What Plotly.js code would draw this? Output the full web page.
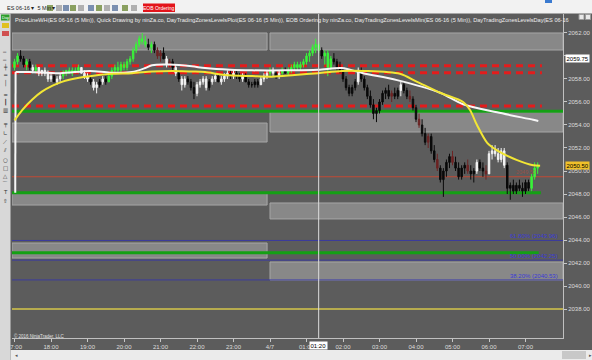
<!DOCTYPE html>
<html><head><meta charset="utf-8">
<script src="https://cdn.plot.ly/plotly-3.0.1.min.js"></script>
<style>html,body{margin:0;padding:0;background:#5c5c5c;overflow:hidden}#chart{width:592px;height:360px}</style>
</head><body><div id="chart"></div>
<script>
// ---- tick labels ----
const tickHours = [0,1,2,3,4,5,6,7,8,9,10,11,12,13,14];
const tickLabels = ["17:00","18:00","19:00","20:00","21:00","22:00","23:00","4/7","01:00","02:00","03:00","04:00","05:00","06:00","07:00"];
const priceTicks = [2038,2040,2042,2044,2046,2048,2050,2052,2054,2056,2058,2060,2062];
const hiddenPriceTicks = [2060]; // covered by the price marker in the reference
const barMinutes = 5;

// ---- 5-min OHLC (ES 06-16) ----
const open = [
2059.00,2059.50,2060.00,2059.75,2059.25,2059.50,2059.00,2058.75,2059.00,2058.50,2058.75,2058.50,
2058.00,2058.25,2057.75,2058.00,2058.25,2058.50,2058.75,2058.50,2058.75,2058.75,2059.00,2058.50,
2058.25,2058.00,2057.75,2057.25,2057.50,2057.75,2058.00,2057.75,2058.25,2058.75,2059.00,2058.75,
2059.25,2059.00,2059.50,2059.75,2060.50,2061.00,2061.50,2061.25,2061.00,2060.75,2061.00,2060.50,
2060.00,2060.25,2059.75,2059.25,2059.50,2059.00,2058.50,2058.00,2057.50,2058.00,2057.75,2057.25,
2056.75,2057.50,2057.75,2058.00,2057.25,2057.75,2058.00,2058.25,2057.75,2058.00,2058.25,2058.50,
2058.25,2058.50,2058.25,2058.00,2058.25,2057.75,2057.50,2057.50,2057.75,2057.50,2058.00,2058.25,
2058.50,2058.75,2058.50,2058.25,2058.50,2058.75,2058.50,2058.75,2059.00,2059.25,2059.00,2059.25,
2059.50,2060.00,2060.25,2060.75,2061.00,2060.50,2060.00,2060.25,2059.00,2059.75,2059.50,2059.00,
2058.75,2058.00,2057.25,2056.75,2057.25,2057.75,2058.75,2058.00,2057.25,2056.50,2055.75,2055.00,
2055.25,2056.00,2056.75,2057.00,2056.50,2056.75,2056.50,2057.00,2057.50,2057.00,2056.50,2056.25,
2055.50,2054.50,2054.00,2053.25,2052.50,2053.00,2051.75,2051.00,2050.25,2049.25,2050.00,2050.75,
2051.25,2050.75,2050.25,2049.50,2050.25,2050.50,2050.00,2049.75,2050.00,2050.75,2050.25,2050.00,
2049.75,2051.50,2051.75,2051.50,2051.00,2051.75,2050.50,2048.50,2048.75,2048.25,2048.75,2048.50,
2048.25,2049.00,2048.50,2049.50,2050.25];
const high = [
2059.75,2060.25,2060.50,2060.00,2059.75,2059.75,2059.25,2059.25,2059.00,2058.75,2059.00,2058.75,
2058.50,2058.50,2058.25,2058.50,2058.75,2058.75,2059.00,2059.00,2059.00,2059.25,2059.00,2058.75,
2058.50,2058.25,2058.00,2057.75,2058.00,2058.25,2058.25,2058.50,2059.00,2059.25,2059.50,2059.50,
2059.50,2059.75,2060.00,2060.75,2061.25,2061.75,2062.00,2061.75,2061.50,2061.25,2061.25,2060.75,
2060.50,2060.75,2060.00,2059.75,2059.75,2059.25,2058.75,2058.25,2058.25,2058.25,2058.00,2057.75,
2057.75,2058.00,2058.25,2058.25,2058.00,2058.25,2058.50,2058.50,2058.25,2058.50,2058.75,2058.75,
2058.75,2058.75,2058.50,2058.50,2058.50,2058.00,2057.75,2058.00,2058.00,2058.25,2058.50,2058.75,
2059.00,2059.00,2058.75,2058.75,2059.00,2059.00,2059.00,2059.25,2059.50,2059.50,2059.50,2059.75,
2060.25,2060.50,2061.00,2061.50,2061.25,2060.75,2060.50,2060.50,2060.00,2060.25,2059.75,2059.50,
2059.00,2058.25,2057.50,2057.50,2058.00,2059.00,2059.00,2058.25,2057.50,2057.00,2056.25,2055.50,
2056.25,2057.00,2057.25,2057.50,2057.00,2057.25,2057.25,2057.75,2057.75,2057.25,2057.00,2056.50,
2055.75,2055.00,2054.50,2053.75,2053.25,2053.25,2052.25,2051.50,2050.50,2050.25,2051.00,2051.50,
2051.75,2051.25,2050.75,2050.50,2050.75,2051.00,2050.50,2050.25,2051.00,2051.00,2050.75,2050.50,
2051.75,2052.25,2052.25,2052.00,2052.00,2052.00,2050.75,2049.00,2049.25,2049.00,2049.25,2049.00,
2049.25,2049.25,2049.75,2050.75,2050.75];
const low = [
2058.75,2059.25,2059.50,2059.00,2058.75,2058.75,2058.50,2058.50,2058.25,2058.25,2058.25,2057.75,
2057.75,2057.75,2057.50,2057.75,2058.00,2058.25,2058.50,2058.25,2058.50,2058.50,2058.50,2058.00,
2057.75,2057.50,2057.00,2056.75,2057.25,2057.50,2057.50,2057.75,2058.00,2058.50,2058.50,2058.50,
2058.75,2058.75,2059.25,2059.50,2060.25,2060.75,2061.00,2060.75,2060.50,2060.25,2060.25,2059.75,
2059.50,2059.75,2059.00,2059.00,2058.75,2058.25,2057.75,2057.00,2057.25,2057.50,2057.00,2056.25,
2056.50,2057.25,2057.50,2057.00,2057.00,2057.50,2057.75,2057.75,2057.50,2057.75,2058.00,2058.00,
2058.00,2058.00,2057.75,2057.75,2057.75,2057.25,2057.25,2057.25,2057.25,2057.50,2057.75,2058.00,
2058.25,2058.25,2058.00,2058.00,2058.25,2058.50,2058.25,2058.50,2058.75,2058.75,2058.75,2059.00,
2059.25,2059.50,2060.00,2060.25,2060.25,2059.75,2059.25,2058.25,2058.75,2059.25,2058.75,2058.50,
2057.75,2057.00,2056.50,2056.50,2057.00,2057.50,2057.75,2057.00,2056.25,2055.50,2054.50,2054.25,
2055.00,2055.75,2056.25,2056.25,2056.00,2056.25,2056.25,2056.50,2056.75,2056.25,2056.00,2055.25,
2054.25,2053.75,2053.00,2052.25,2052.00,2051.50,2050.75,2050.00,2049.00,2047.75,2049.50,2050.25,
2050.50,2050.00,2049.25,2049.25,2049.75,2049.75,2049.25,2049.00,2049.75,2050.00,2049.50,2049.25,
2049.75,2051.00,2051.25,2050.75,2050.75,2050.25,2048.00,2047.50,2048.00,2048.00,2048.25,2047.75,
2048.00,2048.25,2048.25,2049.25,2049.75];
const close = [
2059.50,2060.00,2059.75,2059.25,2059.50,2059.00,2058.75,2059.00,2058.50,2058.75,2058.50,2058.00,
2058.25,2057.75,2058.00,2058.25,2058.50,2058.75,2058.50,2058.75,2058.75,2059.00,2058.50,2058.25,
2058.00,2057.75,2057.25,2057.50,2057.75,2058.00,2057.75,2058.25,2058.75,2059.00,2058.75,2059.25,
2059.00,2059.50,2059.75,2060.50,2061.00,2061.50,2061.25,2061.00,2060.75,2061.00,2060.50,2060.00,
2060.25,2059.75,2059.25,2059.50,2059.00,2058.50,2058.00,2057.50,2058.00,2057.75,2057.25,2056.75,
2057.50,2057.75,2058.00,2057.25,2057.75,2058.00,2058.25,2057.75,2058.00,2058.25,2058.50,2058.25,
2058.50,2058.25,2058.00,2058.25,2057.75,2057.50,2057.50,2057.75,2057.50,2058.00,2058.25,2058.50,
2058.75,2058.50,2058.25,2058.50,2058.75,2058.50,2058.75,2059.00,2059.25,2059.00,2059.25,2059.50,
2060.00,2060.25,2060.75,2061.00,2060.50,2060.00,2060.25,2059.00,2059.75,2059.50,2059.00,2058.75,
2058.00,2057.25,2056.75,2057.25,2057.75,2058.75,2058.00,2057.25,2056.50,2055.75,2055.00,2055.25,
2056.00,2056.75,2057.00,2056.50,2056.75,2056.50,2057.00,2057.50,2057.00,2056.50,2056.25,2055.50,
2054.50,2054.00,2053.25,2052.50,2053.00,2051.75,2051.00,2050.25,2049.25,2050.00,2050.75,2051.25,
2050.75,2050.25,2049.50,2050.25,2050.50,2050.00,2049.75,2050.00,2050.75,2050.25,2050.00,2049.75,
2051.50,2051.75,2051.50,2051.00,2051.75,2050.50,2048.50,2048.75,2048.25,2048.75,2048.50,2048.25,
2049.00,2048.50,2049.50,2050.25,2050.50];
// bar paint: g=green, w=white, k=black, r=maroon
const barPaint = (
"ggkkgkwgwwww"+"wkwwggggggww"+"wkwwkwkggggg"+"ggggggggkgkr"+
"rkwrkwkwwkkk"+"wwwwkwwkwwwk"+"wkkwkkkkkwww"+"gwkwgkgggggg"+
"gggggkgggkkk"+"kkkkkwkkkkkk"+"kkkkrkkwkkrk"+"krkkrkkrkkkk"+
"rkkkkrkkwkkr"+"wwwwwwkkkkkk"+"kkggg").split("");

// ---- moving averages ----
const whiteMaTimes  = [0.02,0.03,0.42,1.25,2.07,2.62,3.22,3.58,3.77,4.26,4.86,5.22,5.90,6.51,7.41,8.32,8.97,9.55,10.48,11.66,12.29,13.22,14.21,14.35];
const whiteMaValues = [2048.10,2058.60,2058.60,2058.50,2058.70,2058.55,2058.60,2058.95,2059.20,2059.25,2059.10,2058.95,2058.80,2058.75,2058.75,2058.80,2058.95,2058.50,2057.90,2056.80,2055.80,2055.10,2054.45,2054.35];
const yellowMaTimes  = [0.00,0.21,0.48,0.75,1.03,1.30,1.77,2.21,2.67,3.22,3.77,4.32,4.86,5.22,5.77,6.51,7.05,7.68,8.32,8.97,9.60,10.56,11.03,11.66,12.29,12.48,12.67,12.95,13.22,13.77,14.21,14.40];
const yellowMaValues = [2054.40,2055.30,2056.20,2056.90,2057.40,2057.75,2058.10,2058.30,2058.45,2058.50,2058.65,2058.70,2058.65,2058.60,2058.35,2058.25,2058.20,2058.35,2058.50,2058.70,2058.70,2058.45,2057.75,2056.80,2056.00,2055.30,2054.00,2052.45,2051.80,2050.95,2050.50,2050.45];

// ---- levels / zones ----
const redDashLevels = [2059.15, 2058.55, 2055.65];
const greenLevels = [2055.20, 2048.10, 2042.90];
const fibLevels = [2043.96, 2042.25, 2040.53];
const fibLabels = ["61.80% (2043.96)", "50.00% (2042.25)", "38.20% (2040.53)"];
const thinRedLevel = 2049.50;
const yellowLevel = 2038.00;
const priorZones = [[2062.00,2060.52],[2054.17,2052.52],[2048.09,2047.04],[2043.74,2042.43]];
const todayZones = [[2062.00,2060.52],[2055.13,2053.39],[2047.22,2045.83],[2042.09,2040.52]];
const lastPrice = 2050.50;
const plotPrice = 2059.75;
const cursorTime = 8 + 20/60;
const cursorLabel = "01:20";
const titleText = "PriceLineWH(ES 06-16 (5 Min)), Quick Drawing by ninZa.co, DayTradingZonesLevelsPlot(ES 06-16 (5 Min)), EOB Ordering by ninZa.co, DayTradingZonesLevelsMin(ES 06-16 (5 Min)), DayTradingZonesLevelsDay(ES 06-16";

// ---- build ----
const xRange = [-0.0685, 15.027];
const yRange = [2035.48, 2063.65];
const barTimes = open.map((_, i) => i * barMinutes / 60);
const paintColors = {g:'#39f239', w:'#f4f4f4', k:'#0a0a0a', r:'#6c2424'};
const traces = [];
Object.keys(paintColors).forEach(code => {
  const idx = barPaint.map((c, i) => c === code ? i : -1).filter(i => i >= 0);
  const col = paintColors[code];
  traces.push({
    type:'candlestick', x: idx.map(i => barTimes[i]),
    open: idx.map(i => open[i]), high: idx.map(i => high[i]),
    low: idx.map(i => low[i]), close: idx.map(i => close[i]),
    increasing:{line:{color:col, width:1}, fillcolor:col},
    decreasing:{line:{color:col, width:1}, fillcolor:col},
    whiskerwidth:0, hoverinfo:'skip', showlegend:false
  });
});
traces.push({type:'scatter', mode:'lines', x: whiteMaTimes.slice(0,2), y: whiteMaValues.slice(0,2),
  line:{color:'#f6f6f6', width:2}, hoverinfo:'skip'});
traces.push({type:'scatter', mode:'lines', x: whiteMaTimes.slice(1), y: whiteMaValues.slice(1),
  line:{color:'#f6f6f6', width:2, shape:'spline', smoothing:0.8}, hoverinfo:'skip'});
traces.push({type:'scatter', mode:'lines', x: yellowMaTimes, y: yellowMaValues,
  line:{color:'#f2e634', width:2, shape:'spline', smoothing:0.8}, hoverinfo:'skip'});

const PX = x => (x - 12) / 551;
const PY = y => 1 - (y - 14) / 324;
const shapes = [];
function hline(y, x0, x1, color, width, dash) {
  shapes.push({type:'line', xref:'x', yref:'y', x0, x1, y0:y, y1:y, layer:'below',
    line:{color, width, dash: dash || 'solid'}});
}
priorZones.forEach(z => shapes.push({type:'rect', xref:'x', yref:'y', x0:xRange[0], x1:6.92, y0:z[0], y1:z[1],
  fillcolor:'#888888', line:{color:'#a6a6a6', width:1}, layer:'below'}));
todayZones.forEach(z => shapes.push({type:'rect', xref:'x', yref:'y', x0:7.0, x1:xRange[1], y0:z[0], y1:z[1],
  fillcolor:'#888888', line:{color:'#a6a6a6', width:1}, layer:'below'}));
hline(yellowLevel, xRange[0], xRange[1], '#d4c64a', 1.5);
fibLevels.forEach(v => hline(v, xRange[0], xRange[1], '#3b3b9e', 1));
hline(thinRedLevel, xRange[0], xRange[1], '#c04a34', 1);
hline(greenLevels[0], xRange[0], xRange[1], '#14a014', 3);
hline(greenLevels[1], xRange[0], 14.42, '#14a014', 3);
hline(greenLevels[2], xRange[0], 14.36, '#14a014', 3);
redDashLevels.forEach(v => hline(v, xRange[0], 14.45, '#e31c1c', 3, '7px,5px'));
shapes.push({type:'line', xref:'x', yref:'paper', x0:cursorTime, x1:cursorTime, y0:0, y1:1,
  line:{color:'#dcdcdc', width:1}, layer:'above'});
// window chrome
function prect(x0, y0, x1, y1, fill, lineCol) {
  shapes.push({type:'rect', xref:'paper', yref:'paper', x0:PX(x0), x1:PX(x1), y0:PY(y1), y1:PY(y0),
    fillcolor:fill, line:{width: lineCol ? 1 : 0, color: lineCol || fill}, layer:'above'});
}
prect(0, 0, 592, 13.5, '#f2f2f2');
prect(0, 13.5, 10.5, 350, '#d8d8d8');
prect(10.5, 350, 592, 360, '#ebebeb');
prect(0, 350, 10.5, 360, '#d8d8d8');
prect(562, 351, 586, 359, '#c8c8c8');
prect(143, 3.5, 175, 12, '#e3141b');
prect(1, 14.5, 9.5, 20.5, '#2e9e2e');
prect(2, 23, 9, 28, '#e0c020');
prect(2, 31, 9, 36, '#d05050');
[47,56,63,70,78,88,96,104,112,122,131].forEach((x, k) => prect(x, 5, x + 6, 11, k % 3 === 0 ? '#8aa060' : (k % 3 === 1 ? '#b0b0b0' : '#7a8fb0')));
prect(579, 14.5, 584, 19.5, '#e8e8e8', '#9a9a9a');
prect(585.5, 14.5, 590.5, 19.5, '#e8e8e8', '#9a9a9a');
prect(545, 0, 552, 3, '#3a7ad0');

const txtFont = 'Liberation Sans, Arial, sans-serif';
const annotations = [];
annotations.push({xref:'paper', yref:'paper', x:PX(13), y:PY(14.5), xanchor:'left', yanchor:'top', showarrow:false,
  text:titleText, font:{family:txtFont, size:5.6, color:'#eeeeee'}});
fibLevels.forEach((v, k) => annotations.push({xref:'paper', yref:'y', x:PX(560), y:v, xanchor:'right', yanchor:'bottom',
  yshift:-1, showarrow:false, text:fibLabels[k], font:{family:txtFont, size:6, color:'#3a3ad8'}}));
annotations.push({xref:'paper', yref:'y', x:1, y:plotPrice, xanchor:'left', xshift:2, showarrow:false, text:plotPrice.toFixed(2),
  bgcolor:'#ffffff', borderpad:0.5, font:{family:txtFont, size:6, color:'#000000'}});
annotations.push({xref:'paper', yref:'y', x:1, y:lastPrice, xanchor:'left', xshift:2, showarrow:false, text:lastPrice.toFixed(2),
  bgcolor:'#f0c02a', borderpad:0.5, font:{family:txtFont, size:6, color:'#000000'}});
annotations.push({xref:'paper', yref:'y', x:PX(538), y:thinRedLevel, xanchor:'right', yanchor:'bottom', showarrow:false,
  text:thinRedLevel.toFixed(2), font:{family:txtFont, size:5.5, color:'rgba(200,70,50,0.55)'}});
annotations.push({xref:'x', yref:'paper', x:cursorTime, y:0, yanchor:'top', yshift:-3, showarrow:false, text:cursorLabel,
  bgcolor:'#ffffff', borderpad:0.5, font:{family:txtFont, size:6, color:'#000000'}});
annotations.push({xref:'paper', yref:'paper', x:PX(12), y:PY(336), xanchor:'left', yanchor:'middle', showarrow:false,
  text:'© 2016 NinjaTrader, LLC', font:{family:txtFont, size:4.5, color:'#e0e0e0'}});
annotations.push({xref:'paper', yref:'paper', x:PX(5), y:PY(8), xanchor:'left', yanchor:'middle', showarrow:false,
  text:'ES 06-16 ▾  5 Min ▾', font:{family:txtFont, size:5.5, color:'#222222'}});
annotations.push({xref:'paper', yref:'paper', x:PX(159), y:PY(8), xanchor:'center', yanchor:'middle', showarrow:false,
  text:'EOB Ordering', font:{family:txtFont, size:5, color:'#ffffff'}});
annotations.push({xref:'paper', yref:'paper', x:PX(5), y:PY(17.5), xanchor:'center', yanchor:'middle', showarrow:false,
  text:'Day', font:{family:txtFont, size:4, color:'#ffffff'}});
annotations.push({xref:'paper', yref:'paper', x:PX(13), y:PY(355), xanchor:'left', yanchor:'middle', showarrow:false,
  text:'◂', font:{family:txtFont, size:5, color:'#555555'}});
annotations.push({xref:'paper', yref:'paper', x:PX(590), y:PY(355), xanchor:'center', yanchor:'middle', showarrow:false,
  text:'▸', font:{family:txtFont, size:5, color:'#555555'}});
const leftIcons = [[52,'┅'],[60,'┅'],[67,'┿'],[75,'━'],[83,'│'],[95,'═'],[102,'┃'],[110,'▥'],[125,'╤'],[133,'∟'],[142,'⟋'],[150,'⫽'],[160,'○'],[168,'□'],[176,'△'],[184,'⌒'],[192,'T'],[201,'⇧']];
leftIcons.forEach(ic => annotations.push({xref:'paper', yref:'paper', x:PX(5.2), y:PY(ic[0]), xanchor:'center', yanchor:'middle',
  showarrow:false, text:ic[1], font:{family:'DejaVu Sans', size:5.5, color:'#333333'}}));

const axisFont = {family:txtFont, size:6, color:'#dcdcdc'};
const layout = {
  width:592, height:360, margin:{l:12, r:29, t:14, b:22, pad:0},
  paper_bgcolor:'#5c5c5c', plot_bgcolor:'#5c5c5c', showlegend:false,
  xaxis:{range:xRange, tickmode:'array', tickvals:tickHours, ticktext:tickLabels, tickfont:axisFont,
    ticks:'outside', ticklen:3, tickcolor:'#c8c8c8', showline:true, linecolor:'#c0c0c0', linewidth:1,
    showgrid:false, zeroline:false, rangeslider:{visible:false}, fixedrange:true},
  yaxis:{range:yRange, side:'right', tickmode:'array', tickvals:priceTicks,
    ticktext:priceTicks.map(v => hiddenPriceTicks.includes(v) ? '' : v.toFixed(2)),
    tickfont:axisFont, ticks:'outside', ticklen:3, tickcolor:'#c8c8c8', showline:true, linecolor:'#c0c0c0',
    linewidth:1, showgrid:false, zeroline:false, fixedrange:true},
  shapes, annotations, hovermode:false
};
Plotly.newPlot('chart', traces, layout, {staticPlot:true, displayModeBar:false});
</script></body></html>
